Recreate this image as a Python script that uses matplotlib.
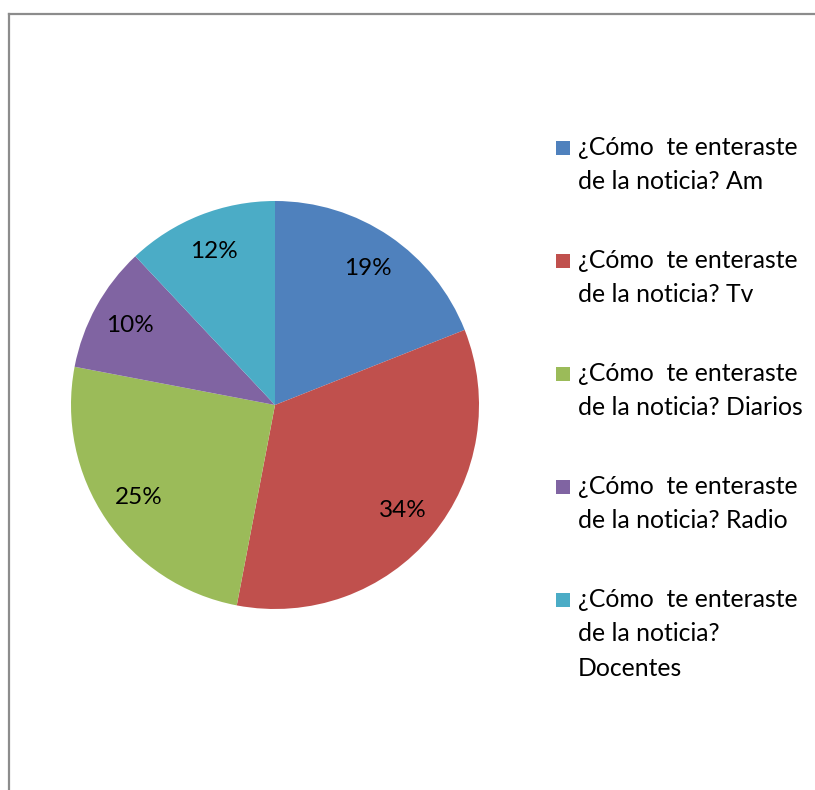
import matplotlib
matplotlib.use("Agg")
import matplotlib.pyplot as plt
from matplotlib.patches import Rectangle
from matplotlib.lines import Line2D

categories = ["¿Cómo  te enteraste\nde la noticia? Am",
              "¿Cómo  te enteraste\nde la noticia? Tv",
              "¿Cómo  te enteraste\nde la noticia? Diarios",
              "¿Cómo  te enteraste\nde la noticia? Radio",
              "¿Cómo  te enteraste\nde la noticia?\nDocentes"]
values = [19, 34, 25, 10, 12]
colors = ["#4F81BD", "#C0504D", "#9BBB59", "#8064A2", "#4BACC6"]

plt.rcParams['font.family'] = ['Lato', 'DejaVu Sans']

W, H = 815, 790
fig = plt.figure(figsize=(W / 100, H / 100), dpi=100)

# border
fig.add_artist(Line2D([8.5 / W, 8.5 / W], [0, 1 - 13.5 / H], transform=fig.transFigure,
                      color="#8c8c8c", lw=1.6))
fig.add_artist(Line2D([8.5 / W, 1], [1 - 13.5 / H, 1 - 13.5 / H], transform=fig.transFigure,
                      color="#8c8c8c", lw=1.6))

cx, cy, r = 275, 405, 204
ax = fig.add_axes([(cx - r) / W, 1 - (cy + r) / H, 2 * r / W, 2 * r / H])
wedges, texts, autotexts = ax.pie(values, colors=colors, startangle=90, counterclock=False,
                                  autopct=lambda p: f"{p:.0f}%", pctdistance=0.81,
                                  textprops=dict(fontsize=17.5, color="black"),
                                  wedgeprops=dict(linewidth=0))
ax.set_xlim(-1, 1)
ax.set_ylim(-1, 1)
ax.set_aspect("equal")
ax.axis("off")

# legend
y0 = 148
step = 113
for i, (lab, col) in enumerate(zip(categories, colors)):
    yc = y0 + i * step
    fig.add_artist(Rectangle((556 / W, 1 - (yc + 7) / H), 14 / W, 14 / H,
                             transform=fig.transFigure, facecolor=col, edgecolor="none"))
    fig.text(578 / W, 1 - (yc - 12) / H, lab, fontsize=17.8, va="top", ha="left",
             linespacing=1.6, color="black")

fig.savefig("out.png", dpi=100, facecolor="white")
